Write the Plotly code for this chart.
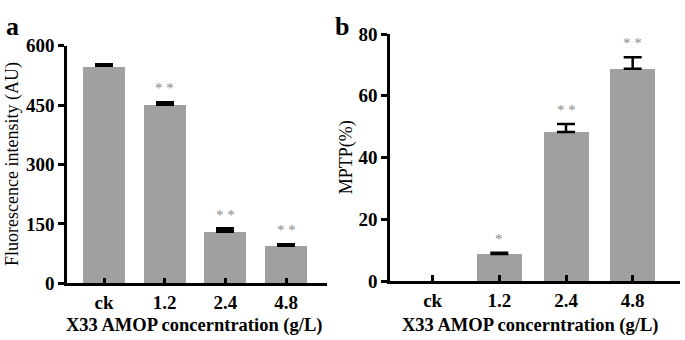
import plotly.graph_objects as go

categories = ["ck", "1.2", "2.4", "4.8"]
fluor_mean = [548, 450, 131, 96]
fluor_err = [6, 7, 7, 3]
fluor_sig = ["", "* *", "* *", "* *"]
mptp_mean = [0, 8.8, 48.3, 68.8]
mptp_err = [0, 0.4, 2.6, 3.7]
mptp_sig = ["", "*", "* *", "* *"]

W, H = 685, 340
H_EFF = 331.5  # height the page actually shows the figure at
BAR = "#a0a0a0"
FONT = "Liberation Serif"

fig = go.Figure()
fig.add_trace(go.Bar(
    x=categories, y=fluor_mean, width=0.69, marker_color=BAR, marker_line_width=0,
    error_y=dict(type="data", symmetric=False, array=fluor_err, arrayminus=[0] * 4,
                 color="black", thickness=2.5, width=9),
    xaxis="x", yaxis="y", showlegend=False))
fig.add_trace(go.Bar(
    x=categories, y=mptp_mean, width=0.675, marker_color=BAR, marker_line_width=0,
    xaxis="x2", yaxis="y2", showlegend=False))
idx = [i for i, e in enumerate(mptp_err) if e > 0]
fig.add_trace(go.Scatter(
    x=[categories[i] for i in idx], y=[mptp_mean[i] for i in idx], mode="markers",
    marker=dict(size=1, color="rgba(0,0,0,0)"),
    error_y=dict(type="data", symmetric=False, array=[mptp_err[i] for i in idx],
                 arrayminus=[0] * len(idx), color="black", thickness=2.5, width=9),
    xaxis="x2", yaxis="y2", showlegend=False, hoverinfo="skip"))

ann = []
for i, (m, e, s) in enumerate(zip(fluor_mean, fluor_err, fluor_sig)):
    if s:
        ann.append(dict(x=i, y=m + e, xref="x", yref="y", text=s, showarrow=False,
                        yshift=14, font=dict(family=FONT, size=15, color="#888888")))
for i, (m, e, s) in enumerate(zip(mptp_mean, mptp_err, mptp_sig)):
    if s:
        ann.append(dict(x=i, y=m + e, xref="x2", yref="y2", text=s, showarrow=False,
                        yshift=14, font=dict(family=FONT, size=15, color="#888888")))

def px(x):
    return x / W

def py(y):
    return 1 - y / H_EFF

ann += [
    dict(x=px(4), y=py(0), xref="paper", yref="paper", xanchor="left", yanchor="top",
         text="a", showarrow=False, font=dict(family=FONT, size=26, color="black", weight="bold")),
    dict(x=px(333), y=py(0), xref="paper", yref="paper", xanchor="left", yanchor="top",
         text="b", showarrow=False, font=dict(family=FONT, size=26, color="black", weight="bold")),
    dict(x=px(194), y=py(328), xref="paper", yref="paper", xanchor="center", yanchor="middle",
         text="X33 AMOP concerntration (g/L)", showarrow=False,
         font=dict(family=FONT, size=18.5, color="black", weight="bold")),
    dict(x=px(530), y=py(328), xref="paper", yref="paper", xanchor="center", yanchor="middle",
         text="X33 AMOP concerntration (g/L)", showarrow=False,
         font=dict(family=FONT, size=18.5, color="black", weight="bold")),
    dict(x=px(13), y=py(160), xref="paper", yref="paper", xanchor="center", yanchor="middle",
         text="Fluorescence intensity (AU)", textangle=-90, showarrow=False,
         font=dict(family=FONT, size=18, color="black")),
    dict(x=px(346), y=py(153), xref="paper", yref="paper", xanchor="center", yanchor="middle",
         text="MPTP(%)", textangle=-90, showarrow=False,
         font=dict(family=FONT, size=18, color="black")),
]

axis_common = dict(showline=True, linecolor="black", linewidth=2.5, showgrid=False,
                   zeroline=False, ticks="outside", tickwidth=2.5, ticklen=6, tickcolor="black",
                   tickfont=dict(family=FONT, size=19, color="black", weight="bold"))
xcommon = dict(axis_common, ticks="inside", type="category")

fig.update_layout(
    width=W, height=H, margin=dict(l=0, r=0, t=0, b=0),
    plot_bgcolor="white", paper_bgcolor="white", bargap=0,
    xaxis=dict(xcommon, domain=[px(67), px(327)], range=[-0.61, 3.675], anchor="y"),
    yaxis=dict(axis_common, domain=[py(284), py(37)], range=[0, 600],
               tickvals=[0, 150, 300, 450, 600], anchor="x"),
    xaxis2=dict(xcommon, domain=[px(390), px(680)], range=[-0.64, 3.71], anchor="y2"),
    yaxis2=dict(axis_common, domain=[py(281.7), py(25)], range=[0, 80],
                tickvals=[0, 20, 40, 60, 80], anchor="x2"),
    annotations=ann,
)
fig.write_html("out.html", config={"displayModeBar": False},
               post_script="document.body.style.margin='0';document.body.style.overflow='hidden';")
